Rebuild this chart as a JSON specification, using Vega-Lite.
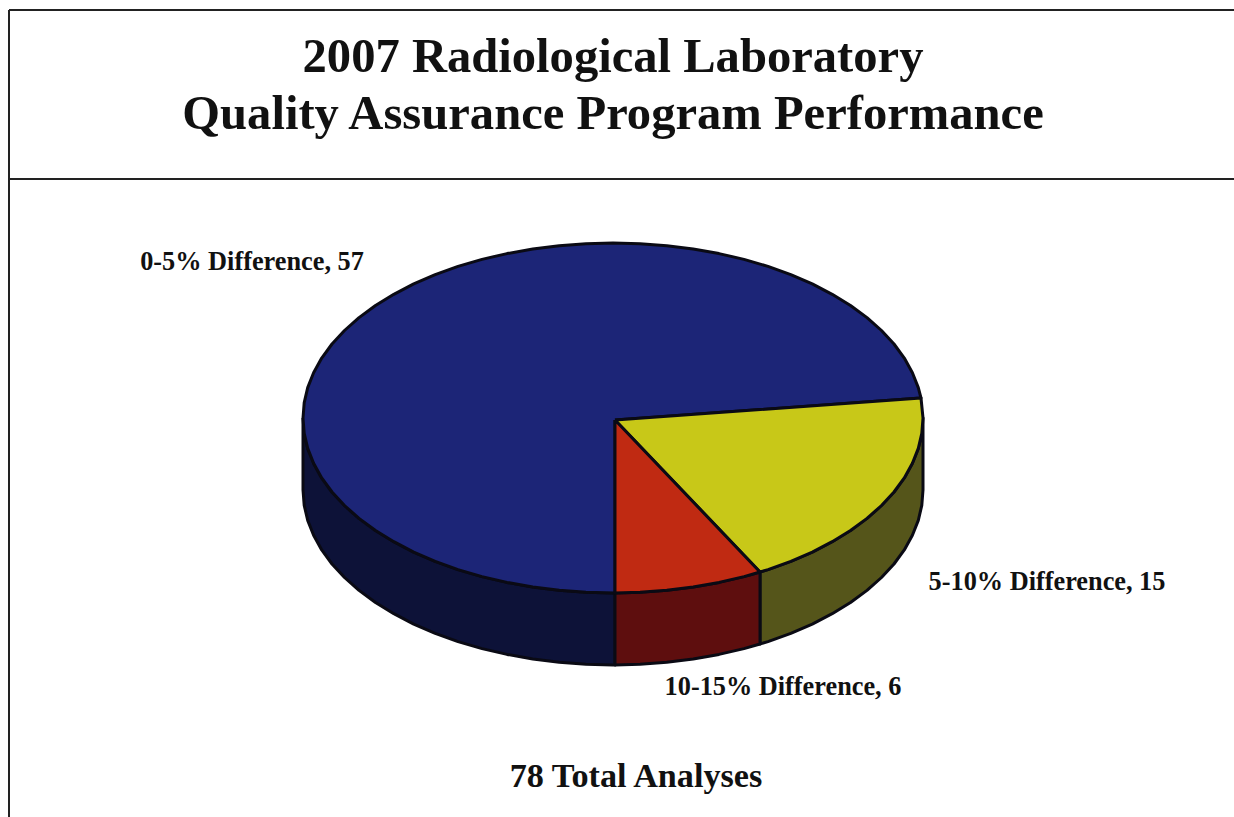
{"$schema":"https://vega.github.io/schema/vega-lite/v6.json","width":1234,"height":817,"padding":0,"autosize":{"type":"none"},"background":"white","view":{"stroke":null},
"title":{"text":["2007 Radiological Laboratory","Quality Assurance Program Performance"],"font":"Liberation Serif","fontSize":48.6,"fontWeight":"bold","color":"#111111","lineHeight":57,"anchor":"middle","frame":"group","baseline":"top","dy":144,"dx":-4},
"datasets":{"frame":[{"line":"left","x":-604,"x2":-604,"y":408,"y2":-399},{"line":"top","x":-604,"x2":621,"y":408,"y2":408},{"line":"divider","x":-604,"x2":621,"y":239,"y2":239}],
"labels":[{"category":"0-5% Difference","value":57,"label":"0-5% Difference, 57","x":-361,"y":156,"kind":"slice"},{"category":"5-10% Difference","value":15,"label":"5-10% Difference, 15","x":434,"y":-164,"kind":"slice"},{"category":"10-15% Difference","value":6,"label":"10-15% Difference, 6","x":170,"y":-269,"kind":"slice"},{"category":"Total","value":78,"label":"78 Total Analyses","x":23,"y":-359,"kind":"total"}],
"pie":[
{"p":"wall 0-5%","i":1,"x":-310,"y":0},{"p":"wall 0-5%","i":2,"x":-308.8,"y":-15.3},{"p":"wall 0-5%","i":3,"x":-305.3,"y":-30.4},{"p":"wall 0-5%","i":4,"x":-299.4,"y":-45.3},{"p":"wall 0-5%","i":5,"x":-291.3,"y":-59.9},{"p":"wall 0-5%","i":6,"x":-281,"y":-74},{"p":"wall 0-5%","i":7,"x":-268.5,"y":-87.5},{"p":"wall 0-5%","i":8,"x":-254,"y":-100.4},{"p":"wall 0-5%","i":9,"x":-237.5,"y":-112.5},{"p":"wall 0-5%","i":10,"x":-219.2,"y":-123.7},{"p":"wall 0-5%","i":11,"x":-199.3,"y":-134.1},{"p":"wall 0-5%","i":12,"x":-177.8,"y":-143.4},{"p":"wall 0-5%","i":13,"x":-155,"y":-151.6},{"p":"wall 0-5%","i":14,"x":-131,"y":-158.6},{"p":"wall 0-5%","i":15,"x":-106,"y":-164.4},{"p":"wall 0-5%","i":16,"x":-80.2,"y":-169},{"p":"wall 0-5%","i":17,"x":-53.8,"y":-172.3},{"p":"wall 0-5%","i":18,"x":-27,"y":-174.3},{"p":"wall 0-5%","i":19,"x":0,"y":-175},{"p":"wall 0-5%","i":20,"x":2,"y":-175},{"p":"wall 0-5%","i":21,"x":2,"y":-247},{"p":"wall 0-5%","i":22,"x":0,"y":-247},{"p":"wall 0-5%","i":23,"x":-27,"y":-246.3},{"p":"wall 0-5%","i":24,"x":-53.8,"y":-244.3},{"p":"wall 0-5%","i":25,"x":-80.2,"y":-241},{"p":"wall 0-5%","i":26,"x":-106,"y":-236.4},{"p":"wall 0-5%","i":27,"x":-131,"y":-230.6},{"p":"wall 0-5%","i":28,"x":-155,"y":-223.6},{"p":"wall 0-5%","i":29,"x":-177.8,"y":-215.4},{"p":"wall 0-5%","i":30,"x":-199.3,"y":-206.1},{"p":"wall 0-5%","i":31,"x":-219.2,"y":-195.7},{"p":"wall 0-5%","i":32,"x":-237.5,"y":-184.5},{"p":"wall 0-5%","i":33,"x":-254,"y":-172.4},{"p":"wall 0-5%","i":34,"x":-268.5,"y":-159.5},{"p":"wall 0-5%","i":35,"x":-281,"y":-146},{"p":"wall 0-5%","i":36,"x":-291.3,"y":-131.9},{"p":"wall 0-5%","i":37,"x":-299.4,"y":-117.3},{"p":"wall 0-5%","i":38,"x":-305.3,"y":-102.4},{"p":"wall 0-5%","i":39,"x":-308.8,"y":-87.3},{"p":"wall 0-5%","i":40,"x":-310,"y":-72},{"p":"wall 0-5%","i":41,"x":-310,"y":0},
{"p":"wall 5-10%","i":1,"x":147,"y":-154},{"p":"wall 5-10%","i":2,"x":155,"y":-151.6},{"p":"wall 5-10%","i":3,"x":177.8,"y":-143.4},{"p":"wall 5-10%","i":4,"x":199.3,"y":-134.1},{"p":"wall 5-10%","i":5,"x":219.2,"y":-123.7},{"p":"wall 5-10%","i":6,"x":237.5,"y":-112.5},{"p":"wall 5-10%","i":7,"x":254,"y":-100.4},{"p":"wall 5-10%","i":8,"x":268.5,"y":-87.5},{"p":"wall 5-10%","i":9,"x":281,"y":-74},{"p":"wall 5-10%","i":10,"x":291.3,"y":-59.9},{"p":"wall 5-10%","i":11,"x":299.4,"y":-45.3},{"p":"wall 5-10%","i":12,"x":305.3,"y":-30.4},{"p":"wall 5-10%","i":13,"x":308.8,"y":-15.3},{"p":"wall 5-10%","i":14,"x":310,"y":0},{"p":"wall 5-10%","i":15,"x":310,"y":-72},{"p":"wall 5-10%","i":16,"x":308.8,"y":-87.3},{"p":"wall 5-10%","i":17,"x":305.3,"y":-102.4},{"p":"wall 5-10%","i":18,"x":299.4,"y":-117.3},{"p":"wall 5-10%","i":19,"x":291.3,"y":-131.9},{"p":"wall 5-10%","i":20,"x":281,"y":-146},{"p":"wall 5-10%","i":21,"x":268.5,"y":-159.5},{"p":"wall 5-10%","i":22,"x":254,"y":-172.4},{"p":"wall 5-10%","i":23,"x":237.5,"y":-184.5},{"p":"wall 5-10%","i":24,"x":219.2,"y":-195.7},{"p":"wall 5-10%","i":25,"x":199.3,"y":-206.1},{"p":"wall 5-10%","i":26,"x":177.8,"y":-215.4},{"p":"wall 5-10%","i":27,"x":155,"y":-223.6},{"p":"wall 5-10%","i":28,"x":147,"y":-226},{"p":"wall 5-10%","i":29,"x":147,"y":-154},
{"p":"wall 10-15%","i":1,"x":2,"y":-175},{"p":"wall 10-15%","i":2,"x":27,"y":-174.3},{"p":"wall 10-15%","i":3,"x":53.8,"y":-172.3},{"p":"wall 10-15%","i":4,"x":80.2,"y":-169},{"p":"wall 10-15%","i":5,"x":106,"y":-164.4},{"p":"wall 10-15%","i":6,"x":131,"y":-158.6},{"p":"wall 10-15%","i":7,"x":147,"y":-154},{"p":"wall 10-15%","i":8,"x":147,"y":-226},{"p":"wall 10-15%","i":9,"x":131,"y":-230.6},{"p":"wall 10-15%","i":10,"x":106,"y":-236.4},{"p":"wall 10-15%","i":11,"x":80.2,"y":-241},{"p":"wall 10-15%","i":12,"x":53.8,"y":-244.3},{"p":"wall 10-15%","i":13,"x":27,"y":-246.3},{"p":"wall 10-15%","i":14,"x":2,"y":-247},{"p":"wall 10-15%","i":15,"x":2,"y":-175},
{"p":"top 0-5%","i":1,"x":2,"y":-2},{"p":"top 0-5%","i":2,"x":308,"y":20},{"p":"top 0-5%","i":3,"x":305.3,"y":30.4},{"p":"top 0-5%","i":4,"x":299.4,"y":45.3},{"p":"top 0-5%","i":5,"x":291.3,"y":59.9},{"p":"top 0-5%","i":6,"x":281,"y":74},{"p":"top 0-5%","i":7,"x":268.5,"y":87.5},{"p":"top 0-5%","i":8,"x":254,"y":100.4},{"p":"top 0-5%","i":9,"x":237.5,"y":112.5},{"p":"top 0-5%","i":10,"x":219.2,"y":123.7},{"p":"top 0-5%","i":11,"x":199.3,"y":134.1},{"p":"top 0-5%","i":12,"x":177.8,"y":143.4},{"p":"top 0-5%","i":13,"x":155,"y":151.6},{"p":"top 0-5%","i":14,"x":131,"y":158.6},{"p":"top 0-5%","i":15,"x":106,"y":164.4},{"p":"top 0-5%","i":16,"x":80.2,"y":169},{"p":"top 0-5%","i":17,"x":53.8,"y":172.3},{"p":"top 0-5%","i":18,"x":27,"y":174.3},{"p":"top 0-5%","i":19,"x":0,"y":175},{"p":"top 0-5%","i":20,"x":-27,"y":174.3},{"p":"top 0-5%","i":21,"x":-53.8,"y":172.3},{"p":"top 0-5%","i":22,"x":-80.2,"y":169},{"p":"top 0-5%","i":23,"x":-106,"y":164.4},{"p":"top 0-5%","i":24,"x":-131,"y":158.6},{"p":"top 0-5%","i":25,"x":-155,"y":151.6},{"p":"top 0-5%","i":26,"x":-177.8,"y":143.4},{"p":"top 0-5%","i":27,"x":-199.3,"y":134.1},{"p":"top 0-5%","i":28,"x":-219.2,"y":123.7},{"p":"top 0-5%","i":29,"x":-237.5,"y":112.5},{"p":"top 0-5%","i":30,"x":-254,"y":100.4},{"p":"top 0-5%","i":31,"x":-268.5,"y":87.5},{"p":"top 0-5%","i":32,"x":-281,"y":74},{"p":"top 0-5%","i":33,"x":-291.3,"y":59.9},{"p":"top 0-5%","i":34,"x":-299.4,"y":45.3},{"p":"top 0-5%","i":35,"x":-305.3,"y":30.4},{"p":"top 0-5%","i":36,"x":-308.8,"y":15.3},{"p":"top 0-5%","i":37,"x":-310,"y":0},{"p":"top 0-5%","i":38,"x":-308.8,"y":-15.3},{"p":"top 0-5%","i":39,"x":-305.3,"y":-30.4},{"p":"top 0-5%","i":40,"x":-299.4,"y":-45.3},{"p":"top 0-5%","i":41,"x":-291.3,"y":-59.9},{"p":"top 0-5%","i":42,"x":-281,"y":-74},{"p":"top 0-5%","i":43,"x":-268.5,"y":-87.5},{"p":"top 0-5%","i":44,"x":-254,"y":-100.4},{"p":"top 0-5%","i":45,"x":-237.5,"y":-112.5},{"p":"top 0-5%","i":46,"x":-219.2,"y":-123.7},{"p":"top 0-5%","i":47,"x":-199.3,"y":-134.1},{"p":"top 0-5%","i":48,"x":-177.8,"y":-143.4},{"p":"top 0-5%","i":49,"x":-155,"y":-151.6},{"p":"top 0-5%","i":50,"x":-131,"y":-158.6},{"p":"top 0-5%","i":51,"x":-106,"y":-164.4},{"p":"top 0-5%","i":52,"x":-80.2,"y":-169},{"p":"top 0-5%","i":53,"x":-53.8,"y":-172.3},{"p":"top 0-5%","i":54,"x":-27,"y":-174.3},{"p":"top 0-5%","i":55,"x":2,"y":-175},{"p":"top 0-5%","i":56,"x":2,"y":-2},
{"p":"top 5-10%","i":1,"x":2,"y":-2},{"p":"top 5-10%","i":2,"x":308,"y":20},{"p":"top 5-10%","i":3,"x":310,"y":0},{"p":"top 5-10%","i":4,"x":308.8,"y":-15.3},{"p":"top 5-10%","i":5,"x":305.3,"y":-30.4},{"p":"top 5-10%","i":6,"x":299.4,"y":-45.3},{"p":"top 5-10%","i":7,"x":291.3,"y":-59.9},{"p":"top 5-10%","i":8,"x":281,"y":-74},{"p":"top 5-10%","i":9,"x":268.5,"y":-87.5},{"p":"top 5-10%","i":10,"x":254,"y":-100.4},{"p":"top 5-10%","i":11,"x":237.5,"y":-112.5},{"p":"top 5-10%","i":12,"x":219.2,"y":-123.7},{"p":"top 5-10%","i":13,"x":199.3,"y":-134.1},{"p":"top 5-10%","i":14,"x":177.8,"y":-143.4},{"p":"top 5-10%","i":15,"x":155,"y":-151.6},{"p":"top 5-10%","i":16,"x":147,"y":-154},{"p":"top 5-10%","i":17,"x":2,"y":-2},
{"p":"top 10-15%","i":1,"x":2,"y":-2},{"p":"top 10-15%","i":2,"x":147,"y":-154},{"p":"top 10-15%","i":3,"x":131,"y":-158.6},{"p":"top 10-15%","i":4,"x":106,"y":-164.4},{"p":"top 10-15%","i":5,"x":80.2,"y":-169},{"p":"top 10-15%","i":6,"x":53.8,"y":-172.3},{"p":"top 10-15%","i":7,"x":27,"y":-174.3},{"p":"top 10-15%","i":8,"x":2,"y":-175},{"p":"top 10-15%","i":9,"x":2,"y":-2}
]},
"layer":[
{"data":{"name":"frame"},"mark":{"type":"rule","color":"#222222","strokeWidth":2},"encoding":{"x":{"field":"x","type":"quantitative","scale":{"domain":[-613,621],"nice":false,"zero":false},"axis":null},"x2":{"field":"x2"},"y":{"field":"y","type":"quantitative","scale":{"domain":[-399,418],"nice":false,"zero":false},"axis":null},"y2":{"field":"y2"}}},
{"data":{"name":"pie"},"mark":{"type":"line","stroke":"#0a0a14","strokeWidth":3,"strokeJoin":"round","clip":false},"encoding":{"x":{"field":"x","type":"quantitative","axis":null},"y":{"field":"y","type":"quantitative","axis":null},"order":{"field":"i","type":"quantitative"},"fill":{"field":"p","type":"nominal","legend":null,"scale":{"domain":["wall 0-5%","wall 5-10%","wall 10-15%","top 0-5%","top 5-10%","top 10-15%"],"range":["#0d1238","#55551a","#5e0e0e","#1c2577","#c8c818","#c02a12"]}}}},
{"data":{"name":"labels"},"transform":[{"filter":"datum.kind === 'slice'"}],"mark":{"type":"text","font":"Liberation Serif","fontWeight":"bold","fontSize":26.3,"color":"#111111","align":"center","baseline":"middle"},"encoding":{"x":{"field":"x","type":"quantitative","axis":null},"y":{"field":"y","type":"quantitative","axis":null},"text":{"field":"label","type":"nominal"}}},
{"data":{"name":"labels"},"transform":[{"filter":"datum.kind === 'total'"}],"mark":{"type":"text","font":"Liberation Serif","fontWeight":"bold","fontSize":34.2,"color":"#111111","align":"center","baseline":"middle"},"encoding":{"x":{"field":"x","type":"quantitative","axis":null},"y":{"field":"y","type":"quantitative","axis":null},"text":{"field":"label","type":"nominal"}}}
]}
